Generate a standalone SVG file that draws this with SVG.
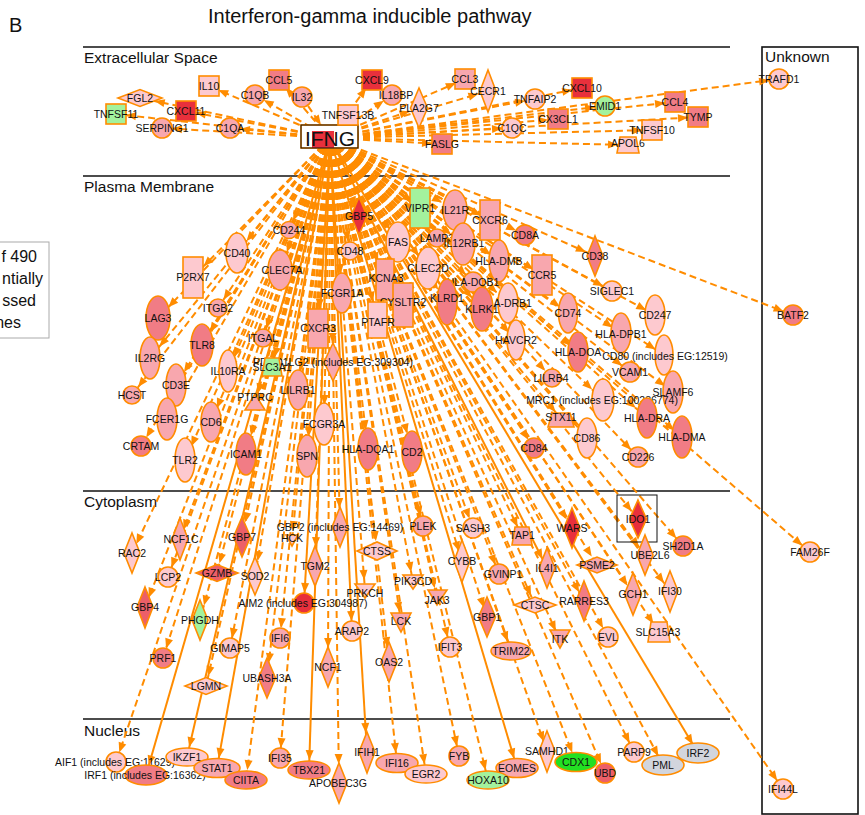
<svg xmlns="http://www.w3.org/2000/svg" width="865" height="815" viewBox="0 0 865 815">
<style>
.e{stroke:#FF8C00;stroke-width:2;fill:none;stroke-dasharray:7 4}
.s{stroke-dasharray:none}
.n circle,.n rect,.n ellipse,.n polygon{stroke:#FF8C00;stroke-width:1.6}
.c1{fill:#FDC9CF}.c2{fill:#F8A7AE}.c3{fill:#F17C85}.c3b{fill:#EC5F68}.c4{fill:#E8303C}.g1{fill:#A3F29D}.g2{fill:#22E022}.gr{fill:#D2D5DD}
.t{font-family:"Liberation Sans",Arial,sans-serif;font-size:10.5px;text-anchor:middle;fill:#111}
.h{font-family:"Liberation Sans",Arial,sans-serif;fill:#111}
.ln{stroke:#111;stroke-width:1.6}
</style>
<defs>
<marker id="a" markerWidth="10" markerHeight="8" refX="20" refY="4" orient="auto" markerUnits="userSpaceOnUse" overflow="visible"><path d="M0,0L10,4L0,8z" fill="#FF8C00"/></marker>
<marker id="b" markerWidth="10" markerHeight="8" refX="25" refY="4" orient="auto" markerUnits="userSpaceOnUse" overflow="visible"><path d="M0,0L10,4L0,8z" fill="#FF8C00"/></marker>
<marker id="c" markerWidth="10" markerHeight="8" refX="29" refY="4" orient="auto" markerUnits="userSpaceOnUse" overflow="visible"><path d="M0,0L10,4L0,8z" fill="#FF8C00"/></marker>
<marker id="z" markerWidth="10" markerHeight="8" refX="10" refY="4" orient="auto" markerUnits="userSpaceOnUse" overflow="visible"><path d="M0,0L10,4L0,8z" fill="#FF8C00"/></marker>
</defs>
<rect width="865" height="815" fill="#fff"/>
<text class="h" x="9" y="32" font-size="20">B</text>
<text class="h" x="208" y="23" font-size="20">Interferon-gamma inducible pathway</text>
<g id="compartments">
<line class="ln" x1="83" y1="47" x2="730" y2="47"/>
<line class="ln" x1="83" y1="176" x2="730" y2="176"/>
<line class="ln" x1="83" y1="491" x2="730" y2="491"/>
<line class="ln" x1="83" y1="719" x2="730" y2="719"/>
<rect x="762" y="47" width="96" height="767" fill="none" stroke="#111" stroke-width="1.6"/>
<text class="h" x="84" y="63" font-size="15.5">Extracellular Space</text>
<text class="h" x="84" y="192" font-size="15.5">Plasma Membrane</text>
<text class="h" x="84" y="507" font-size="15.5">Cytoplasm</text>
<text class="h" x="84" y="736" font-size="15.5">Nucleus</text>
<text class="h" x="765" y="62" font-size="15.5">Unknown</text>
</g>
<g id="legend">
<rect x="-10" y="242" width="59" height="96" fill="#fff" stroke="#aaa" stroke-width="1"/>
<text class="h" x="37" y="262" font-size="16" text-anchor="end">f 490</text>
<text class="h" x="43" y="284" font-size="16" text-anchor="end">ntially</text>
<text class="h" x="36" y="306" font-size="16" text-anchor="end">ssed</text>
<text class="h" x="21" y="328" font-size="16" text-anchor="end">nes</text>
</g>
<g id="connectors">
<path class="e" d="M330 138L116 114" marker-end="url(#a)"/>
<path class="e" d="M330 138L140 98" marker-end="url(#b)"/>
<path class="e" d="M330 138L186 111" marker-end="url(#a)"/>
<path class="e" d="M330 138L162 128" marker-end="url(#a)"/>
<path class="e" d="M330 138L209 86" marker-end="url(#a)"/>
<path class="e" d="M330 138L255 95" marker-end="url(#a)"/>
<path class="e" d="M330 138L279 80" marker-end="url(#a)"/>
<path class="e" d="M330 138L230 128" marker-end="url(#a)"/>
<path class="e" d="M330 138L372 80" marker-end="url(#a)"/>
<path class="e" d="M330 138L392 95" marker-end="url(#a)"/>
<path class="e" d="M330 138L348 115" marker-end="url(#a)"/>
<path class="e" d="M330 138L419 108" marker-end="url(#a)"/>
<path class="e" d="M330 138L442 144" marker-end="url(#a)"/>
<path class="e" d="M330 138L465 79" marker-end="url(#a)"/>
<path class="e" d="M330 138L488 91" marker-end="url(#a)"/>
<path class="e" d="M330 138L535 99" marker-end="url(#a)"/>
<path class="e" d="M330 138L582 88" marker-end="url(#a)"/>
<path class="e" d="M330 138L605 106" marker-end="url(#a)"/>
<path class="e" d="M330 138L558 119" marker-end="url(#a)"/>
<path class="e" d="M330 138L512 128" marker-end="url(#a)"/>
<path class="e" d="M330 138L675 102" marker-end="url(#a)"/>
<path class="e" d="M330 138L698 117" marker-end="url(#a)"/>
<path class="e" d="M330 138L652 130" marker-end="url(#a)"/>
<path class="e" d="M330 138L628 145" marker-end="url(#a)"/>
<path class="e" d="M330 138L779 79" marker-end="url(#a)"/>
<path class="e" d="M302 97L321 125" marker-end="url(#z)"/>
<path class="e" d="M330 138L359 216" marker-end="url(#a)"/>
<path class="e" d="M330 138L420 208" marker-end="url(#a)"/>
<path class="e" d="M330 138L289 230" marker-end="url(#a)"/>
<path class="e" d="M330 138L350 251" marker-end="url(#a)"/>
<path class="e" d="M330 138L398 242" marker-end="url(#b)"/>
<path class="e" d="M330 138L455 210" marker-end="url(#b)"/>
<path class="e" d="M330 138L437 238" marker-end="url(#a)"/>
<path class="e" d="M330 138L463 244" marker-end="url(#b)"/>
<path class="e" d="M330 138L490 220" marker-end="url(#a)"/>
<path class="e" d="M330 138L525 235" marker-end="url(#a)"/>
<path class="e" d="M330 138L595 256" marker-end="url(#a)"/>
<path class="e" d="M330 138L612 291" marker-end="url(#a)"/>
<path class="e" d="M330 138L793 315" marker-end="url(#a)"/>
<path class="e" d="M330 138L655 315" marker-end="url(#a)"/>
<path class="e" d="M330 138L568 313" marker-end="url(#a)"/>
<path class="e" d="M330 138L542 275" marker-end="url(#a)"/>
<path class="e" d="M330 138L499 261" marker-end="url(#a)"/>
<path class="e" d="M330 138L473 282" marker-end="url(#a)"/>
<path class="e" d="M330 138L428 268" marker-end="url(#b)"/>
<path class="e" d="M330 138L447 302" marker-end="url(#b)"/>
<path class="e" d="M330 138L482 309" marker-end="url(#b)"/>
<path class="e" d="M330 138L508 303" marker-end="url(#b)"/>
<path class="e" d="M330 138L385 280" marker-end="url(#c)"/>
<path class="e" d="M330 138L403 305" marker-end="url(#c)"/>
<path class="e" d="M330 138L378 320" marker-end="url(#c)"/>
<path class="e" d="M330 138L318 328" marker-end="url(#c)"/>
<path class="e" d="M330 138L342 293" marker-end="url(#c)"/>
<path class="e" d="M330 138L280 270" marker-end="url(#c)"/>
<path class="e" d="M330 138L237 253" marker-end="url(#b)"/>
<path class="e" d="M330 138L193 277" marker-end="url(#b)"/>
<path class="e" d="M330 138L218 308" marker-end="url(#a)"/>
<path class="e" d="M330 138L158 318" marker-end="url(#b)"/>
<path class="e" d="M330 138L202 345" marker-end="url(#b)"/>
<path class="e" d="M330 138L150 358" marker-end="url(#b)"/>
<path class="e" d="M330 138L132 395" marker-end="url(#a)"/>
<path class="e" d="M330 138L176 385" marker-end="url(#b)"/>
<path class="e" d="M330 138L167 419" marker-end="url(#b)"/>
<path class="e" d="M330 138L141 446" marker-end="url(#a)"/>
<path class="e" d="M330 138L185 460" marker-end="url(#b)"/>
<path class="e" d="M330 138L211 422" marker-end="url(#b)"/>
<path class="e" d="M330 138L228 371" marker-end="url(#b)"/>
<path class="e" d="M330 138L263 338" marker-end="url(#a)"/>
<path class="e" d="M330 138L333 362" marker-end="url(#c)"/>
<path class="e" d="M330 138L272 367" marker-end="url(#a)"/>
<path class="e" d="M330 138L255 403" marker-end="url(#a)"/>
<path class="e" d="M330 138L298 390" marker-end="url(#c)"/>
<path class="e" d="M330 138L324 424" marker-end="url(#c)"/>
<path class="e" d="M330 138L246 454" marker-end="url(#c)"/>
<path class="e" d="M330 138L307 456" marker-end="url(#c)"/>
<path class="e" d="M330 138L368 449" marker-end="url(#c)"/>
<path class="e" d="M330 138L412 452" marker-end="url(#c)"/>
<path class="e" d="M330 138L516 340" marker-end="url(#a)"/>
<path class="e" d="M330 138L578 352" marker-end="url(#a)"/>
<path class="e" d="M330 138L621 333" marker-end="url(#a)"/>
<path class="e" d="M330 138L664 355" marker-end="url(#a)"/>
<path class="e" d="M330 138L630 372" marker-end="url(#a)"/>
<path class="e" d="M330 138L673 392" marker-end="url(#a)"/>
<path class="e" d="M330 138L552 378" marker-end="url(#a)"/>
<path class="e" d="M330 138L603 400" marker-end="url(#b)"/>
<path class="e" d="M330 138L647 418" marker-end="url(#b)"/>
<path class="e" d="M330 138L682 437" marker-end="url(#a)"/>
<path class="e" d="M330 138L562 420" marker-end="url(#a)"/>
<path class="e" d="M330 138L587 438" marker-end="url(#b)"/>
<path class="e" d="M330 138L534 448" marker-end="url(#a)"/>
<path class="e" d="M330 138L638 457" marker-end="url(#a)"/>
<path class="e" d="M330 138L132 553" marker-end="url(#a)"/>
<path class="e" d="M330 138L180 539" marker-end="url(#a)"/>
<path class="e" d="M330 138L168 577" marker-end="url(#a)"/>
<path class="e" d="M330 138L145 607" marker-end="url(#a)"/>
<path class="e" d="M330 138L242 537" marker-end="url(#b)"/>
<path class="e" d="M330 138L217 573" marker-end="url(#a)"/>
<path class="e" d="M330 138L255 576" marker-end="url(#b)"/>
<path class="e" d="M330 138L200 620" marker-end="url(#b)"/>
<path class="e" d="M330 138L163 658" marker-end="url(#a)"/>
<path class="e" d="M330 138L230 648" marker-end="url(#a)"/>
<path class="e" d="M330 138L206 686" marker-end="url(#a)"/>
<path class="e" d="M330 138L340 527" marker-end="url(#c)"/>
<path class="e" d="M330 138L292 541" marker-end="url(#a)"/>
<path class="e" d="M330 138L315 566" marker-end="url(#c)"/>
<path class="e s" d="M330 138L304 603" marker-end="url(#a)"/>
<path class="e" d="M330 138L280 638" marker-end="url(#a)"/>
<path class="e" d="M330 138L267 678" marker-end="url(#b)"/>
<path class="e" d="M330 138L377 551" marker-end="url(#a)"/>
<path class="e" d="M330 138L365 590" marker-end="url(#a)"/>
<path class="e s" d="M330 138L352 631" marker-end="url(#a)"/>
<path class="e" d="M330 138L328 667" marker-end="url(#c)"/>
<path class="e" d="M330 138L413 582" marker-end="url(#a)"/>
<path class="e" d="M330 138L401 622" marker-end="url(#a)"/>
<path class="e" d="M330 138L389 662" marker-end="url(#b)"/>
<path class="e" d="M330 138L423 526" marker-end="url(#a)"/>
<path class="e" d="M330 138L437 598" marker-end="url(#a)"/>
<path class="e" d="M330 138L450 647" marker-end="url(#a)"/>
<path class="e" d="M330 138L462 561" marker-end="url(#a)"/>
<path class="e" d="M330 138L473 528" marker-end="url(#a)"/>
<path class="e" d="M330 138L522 536" marker-end="url(#a)"/>
<path class="e" d="M330 138L499 574" marker-end="url(#a)"/>
<path class="e s" d="M330 138L547 568" marker-end="url(#a)"/>
<path class="e" d="M330 138L572 528" marker-end="url(#a)"/>
<path class="e" d="M330 138L597 565" marker-end="url(#a)"/>
<path class="e" d="M330 138L535 605" marker-end="url(#a)"/>
<path class="e" d="M330 138L584 601" marker-end="url(#a)"/>
<path class="e" d="M330 138L487 617" marker-end="url(#a)"/>
<path class="e" d="M330 138L560 640" marker-end="url(#a)"/>
<path class="e" d="M330 138L511 651" marker-end="url(#a)"/>
<path class="e" d="M330 138L608 637" marker-end="url(#a)"/>
<path class="e" d="M330 138L638 519" marker-end="url(#a)"/>
<path class="e" d="M330 138L645 555" marker-end="url(#a)"/>
<path class="e" d="M330 138L683 546" marker-end="url(#a)"/>
<path class="e" d="M330 138L633 594" marker-end="url(#a)"/>
<path class="e" d="M330 138L670 591" marker-end="url(#a)"/>
<path class="e" d="M330 138L659 632" marker-end="url(#a)"/>
<path class="e" d="M330 138L810 552" marker-end="url(#a)"/>
<path class="e" d="M330 138L116 762" marker-end="url(#a)"/>
<path class="e s" d="M330 138L146 775" marker-end="url(#a)"/>
<path class="e s" d="M330 138L187 757" marker-end="url(#a)"/>
<path class="e s" d="M330 138L217 768" marker-end="url(#a)"/>
<path class="e" d="M330 138L246 780" marker-end="url(#a)"/>
<path class="e" d="M330 138L280 758" marker-end="url(#a)"/>
<path class="e s" d="M330 138L309 770" marker-end="url(#a)"/>
<path class="e" d="M330 138L339 783" marker-end="url(#c)"/>
<path class="e s" d="M330 138L367 752" marker-end="url(#c)"/>
<path class="e" d="M330 138L397 763" marker-end="url(#a)"/>
<path class="e" d="M330 138L426 774" marker-end="url(#a)"/>
<path class="e" d="M330 138L459 756" marker-end="url(#a)"/>
<path class="e" d="M330 138L488 780" marker-end="url(#a)"/>
<path class="e s" d="M330 138L517 768" marker-end="url(#a)"/>
<path class="e" d="M330 138L547 751" marker-end="url(#a)"/>
<path class="e" d="M330 138L576 762" marker-end="url(#a)"/>
<path class="e" d="M330 138L605 773" marker-end="url(#a)"/>
<path class="e" d="M330 138L634 752" marker-end="url(#a)"/>
<path class="e" d="M330 138L663 765" marker-end="url(#a)"/>
<path class="e s" d="M330 138L698 753" marker-end="url(#a)"/>
<path class="e" d="M330 138L783 789" marker-end="url(#a)"/>
</g>
<g id="nodes" class="n">
<g id="IFNG"><rect x="301" y="125" width="57" height="23" fill="#fff" stroke="none"/><rect x="312" y="131" width="22" height="17" class="c4" style="stroke:none"/><rect x="301" y="125" width="57" height="23" fill="none" style="stroke:#111;stroke-width:1"/><text class="h" x="330" y="145.5" font-size="21" text-anchor="middle">IFNG</text></g>
<g id="TNFSF11"><rect x="106" y="104" width="20" height="20" class="g1"/><text class="t" x="116" y="118">TNFSF11</text></g>
<g id="FGL2"><polygon points="118,98 140,89.5 162,98 140,106.5" class="c1"/><text class="t" x="140" y="101.5">FGL2</text></g>
<g id="CXCL11"><rect x="176" y="101" width="20" height="20" class="c4"/><text class="t" x="186" y="114.5">CXCL11</text></g>
<g id="SERPING1"><circle cx="162" cy="128" r="10" class="c2"/><text class="t" x="162" y="131.5">SERPING1</text></g>
<g id="IL10"><rect x="199" y="76" width="20" height="20" class="c1"/><text class="t" x="209" y="89.5">IL10</text></g>
<g id="C1QB"><circle cx="255" cy="95" r="10" class="c2"/><text class="t" x="255" y="98.5">C1QB</text></g>
<g id="CCL5"><rect x="269" y="70" width="20" height="20" class="c3"/><text class="t" x="279" y="83.5">CCL5</text></g>
<g id="IL32"><circle cx="302" cy="97" r="10" class="c2"/><text class="t" x="302" y="100.5">IL32</text></g>
<g id="C1QA"><circle cx="230" cy="128" r="10" class="c2"/><text class="t" x="230" y="131.5">C1QA</text></g>
<g id="CXCL9"><rect x="362" y="70" width="20" height="20" class="c4"/><text class="t" x="372" y="83.5">CXCL9</text></g>
<g id="IL18BP"><circle cx="392" cy="95" r="10" class="c2"/><text class="t" x="396" y="98.5">IL18BP</text></g>
<g id="TNFSF13B"><rect x="338" y="105" width="20" height="20" class="c1"/><text class="t" x="348" y="118.5">TNFSF13B</text></g>
<g id="PLA2G7"><polygon points="419,88 427.5,108 419,128 410.5,108" class="c1"/><text class="t" x="419" y="111.5">PLA2G7</text></g>
<g id="FASLG"><rect x="432" y="134" width="20" height="20" class="c3"/><text class="t" x="442" y="147.5">FASLG</text></g>
<g id="CCL3"><rect x="455" y="69" width="20" height="20" class="c2"/><text class="t" x="465" y="82.5">CCL3</text></g>
<g id="CECR1"><polygon points="488,70 496,91 488,112 480,91" class="c1"/><text class="t" x="488" y="94.5">CECR1</text></g>
<g id="TNFAIP2"><circle cx="535" cy="99" r="10" class="c1"/><text class="t" x="535" y="102.5">TNFAIP2</text></g>
<g id="CXCL10"><rect x="572" y="78" width="20" height="20" class="c4"/><text class="t" x="582" y="91.5">CXCL10</text></g>
<g id="EMID1"><circle cx="605" cy="106" r="10" class="g1"/><text class="t" x="605" y="109.5">EMID1</text></g>
<g id="CX3CL1"><rect x="548" y="109" width="20" height="20" class="c3"/><text class="t" x="558" y="122.5">CX3CL1</text></g>
<g id="C1QC"><circle cx="512" cy="128" r="10" class="c1"/><text class="t" x="512" y="131.5">C1QC</text></g>
<g id="CCL4"><rect x="665" y="92" width="20" height="20" class="c3"/><text class="t" x="675" y="105.5">CCL4</text></g>
<g id="TYMP"><rect x="688" y="107" width="20" height="20" class="c3"/><text class="t" x="698" y="120.5">TYMP</text></g>
<g id="APOL6"><polygon points="620,137 636,137 639,153 617,153" class="c1"/><text class="t" x="628" y="147">APOL6</text></g>
<g id="TNFSF10"><rect x="642" y="120" width="20" height="20" class="c1"/><text class="t" x="652" y="133.5">TNFSF10</text></g>
<g id="TRAFD1"><circle cx="779" cy="79" r="10" class="c1"/><text class="t" x="779" y="82.5">TRAFD1</text></g>

<g id="GBP5"><polygon points="359,197 367,216 359,235 351,216" class="c4"/><text class="t" x="359" y="219.5">GBP5</text></g>
<g id="VIPR1"><rect x="410" y="188" width="20" height="40" class="g1"/><text class="t" x="420" y="211.5">VIPR1</text></g>
<g id="CD244"><circle cx="289" cy="230" r="8.5" class="c2"/><text class="t" x="289" y="233.5">CD244</text></g>
<g id="CD48"><circle cx="350" cy="251" r="9" class="c1"/><text class="t" x="350" y="254.5">CD48</text></g>
<g id="FAS"><ellipse cx="398" cy="242" rx="12" ry="20" class="c1"/><text class="t" x="398" y="245.5">FAS</text></g>
<g id="IL21R"><ellipse cx="455" cy="210" rx="12" ry="20" class="c2"/><text class="t" x="455" y="213.5">IL21R</text></g>
<g id="LAMP3"><circle cx="437" cy="238" r="9" class="c2"/><text class="t" x="437" y="241.5">LAMP3</text></g>
<g id="IL12RB1"><ellipse cx="463" cy="244" rx="12" ry="21" class="c2"/><text class="t" x="464" y="247">IL12RB1</text></g>
<g id="CXCR6"><rect x="480" y="200" width="20" height="40" class="c2"/><text class="t" x="490" y="224">CXCR6</text></g>
<g id="CD8A"><circle cx="525" cy="235" r="10" class="c3"/><text class="t" x="525" y="238.5">CD8A</text></g>
<g id="CD38"><polygon points="595,236 603,256 595,276 587,256" class="c3"/><text class="t" x="595" y="259.5">CD38</text></g>
<g id="SIGLEC1"><circle cx="612" cy="291" r="10" class="c1"/><text class="t" x="612" y="294.5">SIGLEC1</text></g>
<g id="CCR5"><rect x="532" y="255" width="20" height="40" class="c2"/><text class="t" x="542" y="278.5">CCR5</text></g>
<g id="HLA-DMB"><ellipse cx="499" cy="261" rx="10" ry="21" class="c2"/><text class="t" x="499" y="264.5">HLA-DMB</text></g>
<g id="CLEC2D"><ellipse cx="428" cy="268" rx="12" ry="21" class="c1"/><text class="t" x="428" y="271.5">CLEC2D</text></g>
<g id="HLA-DQB1"><circle cx="473" cy="282" r="10" class="c2"/><text class="t" x="473" y="285.5">HLA-DQB1</text></g>
<g id="KCNA3"><rect x="376" y="259" width="18" height="41" class="c2"/><text class="t" x="386" y="281.5">KCNA3</text></g>
<g id="CYSLTR2"><rect x="393" y="283" width="20" height="44" class="c2"/><text class="t" x="403" y="305.5">CYSLTR2</text></g>
<g id="KLRD1"><ellipse cx="447" cy="302" rx="10" ry="23" class="c3"/><text class="t" x="447" y="301.5">KLRD1</text></g>
<g id="HLA-DRB1"><ellipse cx="508" cy="303" rx="10" ry="20" class="c1"/><text class="t" x="506" y="306.5">HLA-DRB1</text></g>
<g id="KLRK1"><ellipse cx="482" cy="309" rx="11" ry="22" class="c3"/><text class="t" x="482" y="313">KLRK1</text></g>
<g id="CD247"><ellipse cx="655" cy="315" rx="10" ry="20" class="c1"/><text class="t" x="655" y="318.5">CD247</text></g>
<g id="CD74"><ellipse cx="568" cy="313" rx="9.5" ry="20" class="c2"/><text class="t" x="568" y="316.5">CD74</text></g>
<g id="BATF2"><circle cx="793" cy="315" r="10" class="c3"/><text class="t" x="793" y="318.5">BATF2</text></g>
<g id="PTAFR"><rect x="368" y="302" width="19" height="36" class="c1"/><text class="t" x="378" y="325.5">PTAFR</text></g>
<g id="CXCR3"><rect x="308" y="309" width="20" height="39" class="c2"/><text class="t" x="318" y="332">CXCR3</text></g>
<g id="FCGR1A"><ellipse cx="342" cy="293" rx="10" ry="20" class="c2"/><text class="t" x="342" y="296.5">FCGR1A</text></g>
<g id="CLEC7A"><ellipse cx="280" cy="270" rx="12" ry="20" class="c2"/><text class="t" x="282" y="273.5">CLEC7A</text></g>
<g id="CD40"><ellipse cx="237" cy="253" rx="11" ry="20" class="c1"/><text class="t" x="237" y="256.5">CD40</text></g>
<g id="P2RX7"><rect x="183" y="257" width="20" height="41" class="c1"/><text class="t" x="193" y="280.5">P2RX7</text></g>
<g id="ITGB2"><circle cx="218" cy="308" r="9" class="c2"/><text class="t" x="218" y="311.5">ITGB2</text></g>
<g id="LAG3"><ellipse cx="158" cy="318" rx="12" ry="22" class="c3"/><text class="t" x="158" y="321.5">LAG3</text></g>
<g id="TLR8"><ellipse cx="202" cy="345" rx="11" ry="21" class="c3"/><text class="t" x="202" y="348.5">TLR8</text></g>
<g id="IL2RG"><ellipse cx="150" cy="358" rx="10" ry="21" class="c2"/><text class="t" x="150" y="361.5">IL2RG</text></g>
<g id="HCST"><circle cx="132" cy="395" r="9" class="c2"/><text class="t" x="132" y="398.5">HCST</text></g>
<g id="CD3E"><ellipse cx="176" cy="385" rx="10" ry="21" class="c2"/><text class="t" x="176" y="388.5">CD3E</text></g>
<g id="FCER1G"><ellipse cx="167" cy="419" rx="10" ry="21" class="c2"/><text class="t" x="167" y="422.5">FCER1G</text></g>
<g id="CRTAM"><circle cx="141" cy="446" r="10" class="c3"/><text class="t" x="141" y="449.5">CRTAM</text></g>
<g id="TLR2"><ellipse cx="185" cy="460" rx="10" ry="22" class="c1"/><text class="t" x="185" y="463.5">TLR2</text></g>
<g id="CD6"><ellipse cx="211" cy="422" rx="10" ry="20" class="c2"/><text class="t" x="211" y="425.5">CD6</text></g>
<g id="IL10RA"><ellipse cx="228" cy="371" rx="9" ry="21" class="c1"/><text class="t" x="228" y="374.5">IL10RA</text></g>
<g id="ITGAL"><circle cx="263" cy="338" r="9" class="c2"/><text class="t" x="263" y="341.5">ITGAL</text></g>
<g id="PDCD1LG2"><polygon points="333,343 342,362 333,381 324,362" class="c2"/><text class="t" x="333" y="365.5">PDCD1LG2 (includes EG:309304)</text></g>
<g id="SLC3A1"><polygon points="265,358 279,358 282,376 262,376" class="g1"/><text class="t" x="272" y="370.5">SLC3A1</text></g>
<g id="PTPRC"><polygon points="255,394 265,410 245,410" class="c2"/><text class="t" x="255" y="401">PTPRC</text></g>
<g id="LILRB1"><ellipse cx="298" cy="390" rx="10" ry="20" class="c2"/><text class="t" x="298" y="393.5">LILRB1</text></g>
<g id="FCGR3A"><ellipse cx="324" cy="424" rx="10" ry="21" class="c1"/><text class="t" x="324" y="427.5">FCGR3A</text></g>
<g id="ICAM1"><ellipse cx="246" cy="454" rx="10" ry="21" class="c3"/><text class="t" x="246" y="457.5">ICAM1</text></g>
<g id="SPN"><ellipse cx="307" cy="456" rx="10" ry="21" class="c2"/><text class="t" x="307" y="459.5">SPN</text></g>
<g id="HLA-DQA1"><ellipse cx="368" cy="449" rx="10" ry="21" class="c3"/><text class="t" x="368" y="452.5">HLA-DQA1</text></g>
<g id="CD2"><ellipse cx="412" cy="452" rx="10" ry="21" class="c3"/><text class="t" x="412" y="455.5">CD2</text></g>
<g id="HAVCR2"><ellipse cx="516" cy="340" rx="9" ry="20" class="c1"/><text class="t" x="516" y="343.5">HAVCR2</text></g>
<g id="HLA-DPB1"><ellipse cx="621" cy="333" rx="10" ry="20" class="c2"/><text class="t" x="621" y="338">HLA-DPB1</text></g>
<g id="HLA-DOA"><ellipse cx="578" cy="352" rx="10" ry="20" class="c3"/><text class="t" x="578" y="355.5">HLA-DOA</text></g>
<g id="CD80"><ellipse cx="664" cy="355" rx="9" ry="20" class="c1"/><text class="t" x="665" y="359.5">CD80 (includes EG:12519)</text></g>
<g id="VCAM1"><circle cx="630" cy="372" r="10" class="c2"/><text class="t" x="630" y="376">VCAM1</text></g>
<g id="LILRB4"><circle cx="552" cy="378" r="9" class="c2"/><text class="t" x="551" y="381.5">LILRB4</text></g>
<g id="SLAMF6"><ellipse cx="673" cy="392" rx="10" ry="21" class="c2"/><text class="t" x="673" y="395.5">SLAMF6</text></g>
<g id="MRC1"><ellipse cx="603" cy="400" rx="11" ry="21" class="c1"/><text class="t" x="602" y="403.5">MRC1 (includes EG:100286774)</text></g>
<g id="HLA-DRA"><ellipse cx="647" cy="418" rx="10" ry="20" class="c3"/><text class="t" x="647" y="421.5">HLA-DRA</text></g>
<g id="HLA-DMA"><ellipse cx="682" cy="437" rx="10" ry="21" class="c3"/><text class="t" x="682" y="440.5">HLA-DMA</text></g>
<g id="STX11"><polygon points="552,413 570,413 574,427 548,427" class="c2"/><text class="t" x="561" y="420.5">STX11</text></g>
<g id="CD86"><ellipse cx="587" cy="438" rx="10" ry="20" class="c1"/><text class="t" x="587" y="441.5">CD86</text></g>
<g id="CD84"><circle cx="534" cy="448" r="10" class="c3"/><text class="t" x="534" y="451.5">CD84</text></g>
<g id="CD226"><circle cx="638" cy="457" r="10" class="c2"/><text class="t" x="638" y="460.5">CD226</text></g>

<g id="RAC2"><polygon points="132,533 140,553 132,573 124,553" class="c1"/><text class="t" x="132" y="556.5">RAC2</text></g>
<g id="NCF1C"><polygon points="180,518 188,539 180,560 172,539" class="c2"/><text class="t" x="181" y="542.5">NCF1C</text></g>
<g id="LCP2"><circle cx="168" cy="577" r="10" class="c1"/><text class="t" x="168" y="580.5">LCP2</text></g>
<g id="GBP4"><polygon points="145,587 153,607 145,628 137,607" class="c3b"/><text class="t" x="145" y="611">GBP4</text></g>
<g id="GBP7"><polygon points="242,517 250.5,537 242,557 233.5,537" class="c3b"/><text class="t" x="242" y="540.5">GBP7</text></g>
<g id="GZMB"><polygon points="196,573 217,564.5 238,573 217,581.5" class="c3b"/><text class="t" x="217" y="576.5">GZMB</text></g>
<g id="SOD2"><polygon points="255,557 263,576 255,595 247,576" class="c1"/><text class="t" x="255" y="579.5">SOD2</text></g>
<g id="PHGDH"><polygon points="200,600 208,620 200,640 192,620" class="g1"/><text class="t" x="200" y="623.5">PHGDH</text></g>
<g id="PRF1"><circle cx="163" cy="658" r="10" class="c3"/><text class="t" x="163" y="661.5">PRF1</text></g>
<g id="GIMAP5"><circle cx="230" cy="648" r="10" class="c1"/><text class="t" x="230" y="651.5">GIMAP5</text></g>
<g id="LGMN"><polygon points="185,686 206,677.5 227,686 206,694.5" class="c1"/><text class="t" x="206" y="689.5">LGMN</text></g>
<g id="GBP2"><polygon points="340,507 348,527 340,547 332,527" class="c2"/><text class="t" x="340" y="530.5">GBP2 (includes EG:14469)</text></g>
<g id="HCK"><polygon points="286,535 298,535 292,546" class="c1"/><text class="t" x="292" y="541.5">HCK</text></g>
<g id="TGM2"><polygon points="315,546 323,566 315,586 307,566" class="c2"/><text class="t" x="315" y="569.5">TGM2</text></g>
<g id="AIM2"><circle cx="304" cy="603" r="10" class="c4"/><text class="t" x="303" y="606.5">AIM2 (includes EG:304987)</text></g>
<g id="IFI6"><circle cx="280" cy="638" r="10" class="c2"/><text class="t" x="280" y="641.5">IFI6</text></g>
<g id="UBASH3A"><polygon points="267,658 275.5,678 267,698 258.5,678" class="c3"/><text class="t" x="267" y="681.5">UBASH3A</text></g>
<g id="CTSS"><polygon points="357,551 377,542 397,551 377,560" class="c1"/><text class="t" x="377" y="554.5">CTSS</text></g>
<g id="PRKCH"><polygon points="355,584 375,584 365,598" class="c1"/><text class="t" x="365" y="597">PRKCH</text></g>
<g id="ARAP2"><circle cx="352" cy="631" r="10" class="c1"/><text class="t" x="352" y="634.5">ARAP2</text></g>
<g id="NCF1"><polygon points="328,647 336,667 328,687 320,667" class="c2"/><text class="t" x="328" y="670.5">NCF1</text></g>
<g id="PIK3CD"><polygon points="403,575 423,575 413,589" class="c1"/><text class="t" x="413" y="584.5">PIK3CD</text></g>
<g id="LCK"><polygon points="391,613 411,613 401,632" class="c2"/><text class="t" x="401" y="625">LCK</text></g>
<g id="OAS2"><polygon points="389,642 397,662 389,682 381,662" class="c2"/><text class="t" x="389" y="665.5">OAS2</text></g>
<g id="PLEK"><circle cx="423" cy="526" r="10" class="c2"/><text class="t" x="423" y="529.5">PLEK</text></g>
<g id="JAK3"><polygon points="428,590 447,590 437,605" class="c2"/><text class="t" x="437" y="604">JAK3</text></g>
<g id="IFIT3"><circle cx="450" cy="647" r="10" class="c1"/><text class="t" x="450" y="650.5">IFIT3</text></g>
<g id="CYBB"><polygon points="462,540 470,561 462,582 454,561" class="c1"/><text class="t" x="462" y="564.5">CYBB</text></g>
<g id="SASH3"><circle cx="473" cy="528" r="10" class="c1"/><text class="t" x="473" y="531.5">SASH3</text></g>
<g id="TAP1"><polygon points="515,527 529,527 532,545 512,545" class="c2"/><text class="t" x="522" y="538.5">TAP1</text></g>
<g id="GVINP1"><circle cx="499" cy="574" r="10" class="c2"/><text class="t" x="503" y="577.5">GVINP1</text></g>
<g id="IL4I1"><polygon points="547,548 555,568 547,588 539,568" class="c2"/><text class="t" x="547" y="571.5">IL4I1</text></g>
<g id="WARS"><polygon points="572,508 580,528 572,548 564,528" class="c4"/><text class="t" x="572" y="531.5">WARS</text></g>
<g id="PSME2"><polygon points="577,565 597,557 617,565 597,573" class="c2"/><text class="t" x="597" y="568.5">PSME2</text></g>
<g id="CTSC"><polygon points="514,605 535,597 556,605 535,613" class="c1"/><text class="t" x="535" y="608.5">CTSC</text></g>
<g id="RARRES3"><polygon points="584,581 592,601 584,621 576,601" class="c3"/><text class="t" x="584" y="604.5">RARRES3</text></g>
<g id="GBP1"><polygon points="487,597 495.5,617 487,637 478.5,617" class="c3"/><text class="t" x="487" y="620.5">GBP1</text></g>
<g id="ITK"><polygon points="550,630 570,630 560,648" class="c2"/><text class="t" x="560" y="643">ITK</text></g>
<g id="TRIM22"><ellipse cx="511" cy="651" rx="20" ry="9" class="c2"/><text class="t" x="511" y="654.5">TRIM22</text></g>
<g id="EVL"><circle cx="608" cy="637" r="10" class="c1"/><text class="t" x="608" y="640.5">EVL</text></g>
<g id="IDO1"><polygon points="638,500 646.5,519 638,538 629.5,519" class="c4"/><text class="t" x="638" y="522.5">IDO1</text><rect x="617" y="495" width="40" height="47" fill="none" style="stroke:#111;stroke-width:1"/></g>
<g id="UBE2L6"><polygon points="645,535 653,555 645,575 637,555" class="c2"/><text class="t" x="650" y="558.5">UBE2L6</text></g>
<g id="SH2D1A"><circle cx="683" cy="546" r="10" class="c3"/><text class="t" x="683" y="549.5">SH2D1A</text></g>
<g id="GCH1"><polygon points="633,573 641.5,594 633,615 624.5,594" class="c2"/><text class="t" x="633" y="597.5">GCH1</text></g>
<g id="IFI30"><polygon points="670,571 678,591 670,612 662,591" class="c1"/><text class="t" x="670" y="594.5">IFI30</text></g>
<g id="SLC15A3"><polygon points="651,622 667,622 670,642 648,642" class="c1"/><text class="t" x="658" y="635.5">SLC15A3</text></g>
<g id="FAM26F"><circle cx="810" cy="552" r="10" class="c1"/><text class="t" x="810" y="555.5">FAM26F</text></g>

<g id="AIF1"><circle cx="116" cy="762" r="10" class="c1"/><text class="t" x="115" y="765.5">AIF1 (includes EG:11629)</text></g>
<g id="IRF1"><ellipse cx="146" cy="775" rx="21" ry="10" class="c3"/><text class="t" x="145" y="778.5">IRF1 (includes EG:16362)</text></g>
<g id="IKZF1"><ellipse cx="187" cy="757" rx="21" ry="9" class="c1"/><text class="t" x="187" y="760.5">IKZF1</text></g>
<g id="STAT1"><ellipse cx="217" cy="768" rx="23" ry="9.5" class="c2"/><text class="t" x="217" y="771.5">STAT1</text></g>
<g id="CIITA"><ellipse cx="246" cy="780" rx="21" ry="9" class="c3"/><text class="t" x="246" y="783.5">CIITA</text></g>
<g id="IFI35"><circle cx="280" cy="758" r="10" class="c2"/><text class="t" x="280" y="761.5">IFI35</text></g>
<g id="TBX21"><ellipse cx="309" cy="770" rx="21" ry="9" class="c3"/><text class="t" x="309" y="773.5">TBX21</text></g>
<g id="APOBEC3G"><polygon points="339,763 347,783 339,803 331,783" class="c2"/><text class="t" x="338" y="786.5">APOBEC3G</text></g>
<g id="IFIH1"><polygon points="367,732 375,752 367,773 359,752" class="c2"/><text class="t" x="367" y="755.5">IFIH1</text></g>
<g id="IFI16"><ellipse cx="397" cy="763" rx="21" ry="9.5" class="c2"/><text class="t" x="397" y="766.5">IFI16</text></g>
<g id="EGR2"><ellipse cx="426" cy="774" rx="21" ry="9" class="c1"/><text class="t" x="426" y="777.5">EGR2</text></g>
<g id="FYB"><circle cx="459" cy="756" r="10" class="c2"/><text class="t" x="459" y="759.5">FYB</text></g>
<g id="EOMES"><ellipse cx="517" cy="768" rx="21" ry="9.5" class="c2"/><text class="t" x="517" y="771.5">EOMES</text></g>
<g id="HOXA10"><ellipse cx="488" cy="780" rx="21" ry="9" class="g1"/><text class="t" x="488" y="783.5">HOXA10</text></g>
<g id="SAMHD1"><polygon points="547,731 555,751 547,772 539,751" class="c1"/><text class="t" x="547" y="754.5">SAMHD1</text></g>
<g id="CDX1"><ellipse cx="576" cy="762" rx="21" ry="9.5" class="g2"/><text class="t" x="576" y="765.5">CDX1</text></g>
<g id="UBD"><circle cx="605" cy="773" r="10" class="c3b"/><text class="t" x="605" y="776.5">UBD</text></g>
<g id="PARP9"><circle cx="634" cy="752" r="10" class="c1"/><text class="t" x="634" y="755.5">PARP9</text></g>
<g id="PML"><ellipse cx="663" cy="765" rx="21" ry="10" class="gr"/><text class="t" x="663" y="768.5">PML</text></g>
<g id="IRF2"><ellipse cx="698" cy="753" rx="21" ry="10" class="gr"/><text class="t" x="698" y="756.5">IRF2</text></g>
<g id="IFI44L"><circle cx="783" cy="789" r="10" class="c1"/><text class="t" x="783" y="792.5">IFI44L</text></g>
</g>
</svg>
